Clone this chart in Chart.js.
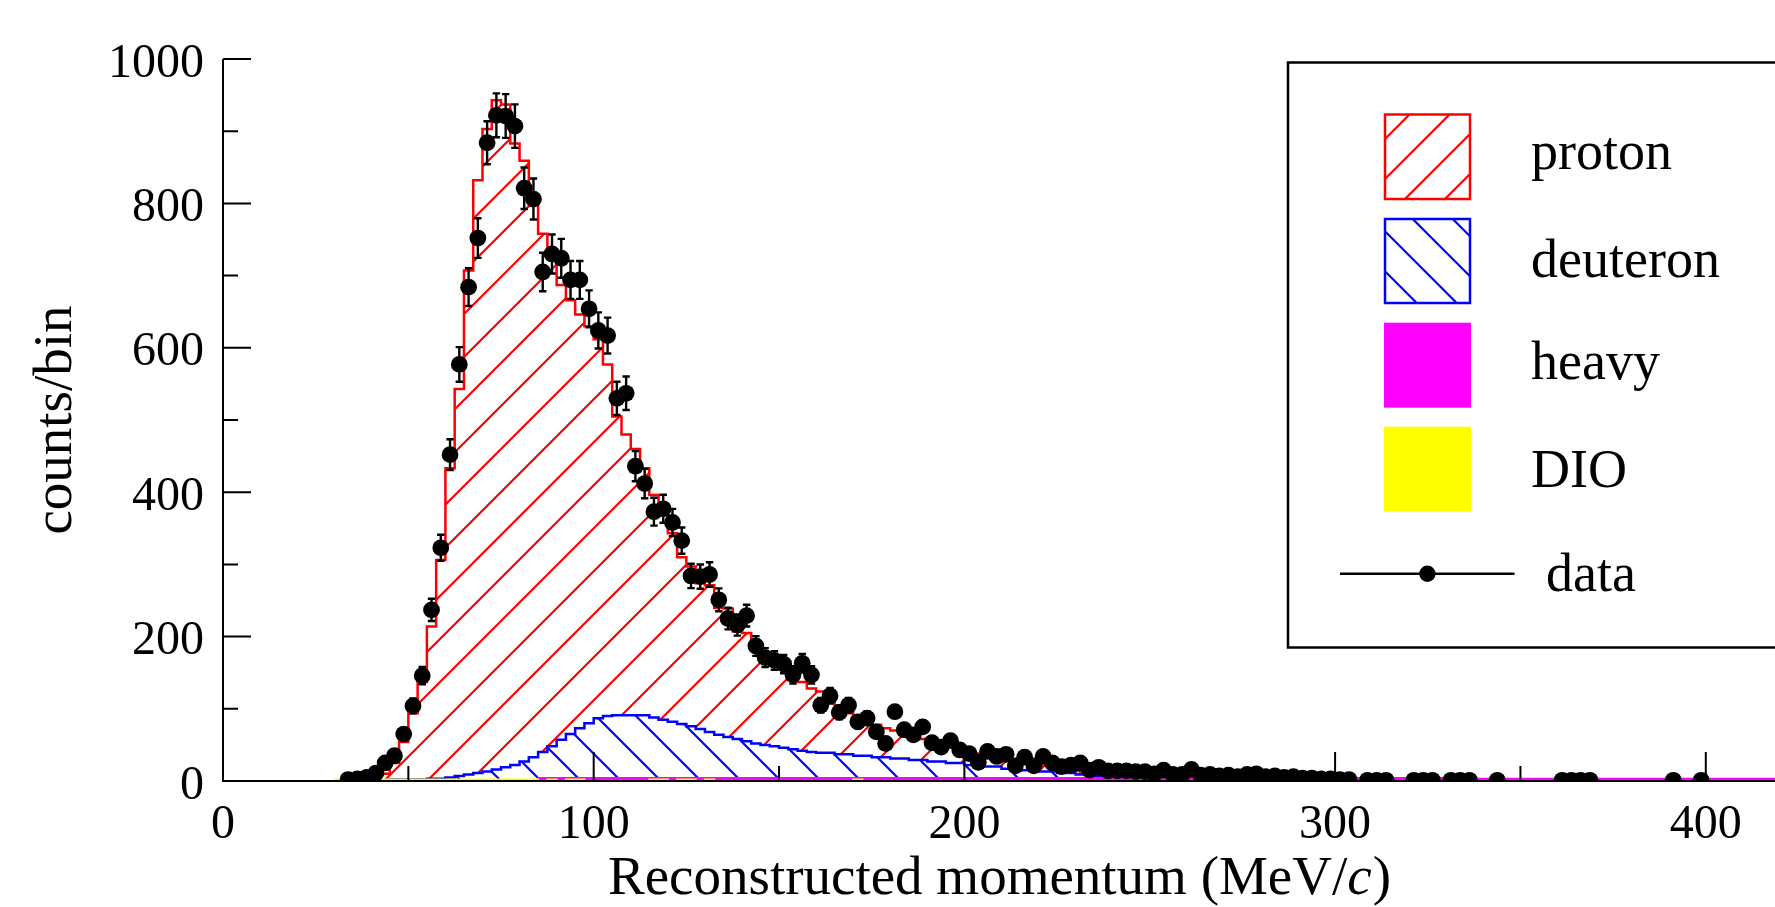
<!DOCTYPE html>
<html>
<head>
<meta charset="utf-8">
<script src="https://cdn.jsdelivr.net/npm/chart.js@4.4.1/dist/chart.umd.min.js"></script>
<style>
  html, body { margin: 0; padding: 0; background: #fff; }
  canvas { display: block; }
</style>
</head>
<body>
<canvas id="momentumChart" width="1775" height="907"></canvas>
<script>
// histogram binning: 2.5 MeV/c bins, first bin starts at 30 MeV/c
const binStart = 30;
const binWidth = 2.5;

// red outline (proton, top of the stack), bins 30 .. 270
const protonTop = [
  0, 1, 1, 2, 4, 10, 25, 54, 94, 137,
  214, 306, 433, 543, 707, 832, 903, 943, 937, 883,
  859, 806, 758, 725, 687, 666, 646, 630, 612, 577,
  505, 480, 460, 433, 396, 380, 343, 310, 297, 274,
  271, 240, 239, 207, 205, 184, 175, 165, 158, 149,
  137, 128, 124, 112, 100, 94, 88, 82, 78, 73,
  70, 64, 61, 58, 55, 52, 48, 45, 40, 38,
  36, 33, 30, 28, 25, 23, 21, 19, 17, 15,
  14, 12, 11, 10, 9, 8, 7, 6, 6, 5,
  5, 4, 4, 4, 3, 3,
];

// blue outline (deuteron), same bins
const deuteron = [
  0, 0, 1, 1, 1, 1, 2, 2, 2, 2,
  3, 3, 5, 7, 9, 11, 13, 16, 19, 22,
  27, 33, 40, 48, 57, 65, 73, 80, 87, 90,
  91, 91, 91, 91, 88, 85, 82, 79, 76, 72,
  68, 64, 61, 58, 55, 52, 50, 48, 46, 44,
  42, 40, 39, 39, 37, 37, 35, 35, 33, 33,
  31, 31, 29, 29, 27, 27, 25, 25, 22, 22,
  20, 20, 17, 17, 15, 15, 13, 13, 11, 11,
  9, 9, 7, 7, 5, 5, 4, 4, 3, 3,
  3, 3, 2, 2, 2, 2,
];

// magenta (heavy), bins 30 .. 420
const heavy = [
  0, 0, 0, 0, 0, 0, 0, 0, 0, 0, 0, 0, 0, 0, 0, 0, 0, 0, 0, 0, 0, 0,
  4, 4, 4, 4, 4, 4, 4, 4, 4, 4, 4, 4, 4, 4, 4, 4, 4, 4, 4, 4, 4, 4,
  4, 4, 4, 4, 4, 4, 4, 4, 4, 4, 4, 4, 4, 4, 4, 4, 4, 4, 4, 4, 4, 4,
  4, 4, 4, 4, 4, 4, 4, 4, 4, 4, 4, 4, 4, 4, 4, 4, 4, 4, 4, 4, 4, 4,
  4, 4, 4, 4, 4, 4, 4, 4, 4, 4, 4, 4, 4, 4, 4, 4, 4, 4, 4, 4, 4, 4,
  4, 4, 4, 4, 4, 4, 4, 4, 4, 4, 4,
  3, 3, 3, 3, 3, 3, 3, 3, 3, 3, 3, 3, 3, 3, 3, 3, 3, 3, 3, 3, 3, 3, 3, 3,
  3, 3, 3, 3, 3, 3, 3, 3, 3, 3, 3, 3, 3, 3, 3, 3, 3, 3, 3, 3, 3, 3, 3,
];

// yellow (DIO), bins 30 .. 175
const dio = [
  2, 2, 2, 2, 2, 2, 2, 2, 2, 2, 2, 2, 2, 2, 2, 2, 2, 2, 2, 2, 2, 2,
  0, 2, 0, 2, 2, 0, 0, 0, 0, 0, 0, 0, 2, 2, 0, 2, 2, 0, 2,
  0, 0, 0, 0, 0, 0, 0, 0, 0, 0, 0, 0, 0, 0, 0, 2, 0,
];

// data counts per bin (bin centres 31.25, 33.75, ...), null = empty bin
const dataCounts = [
  null, 2, 3, 5, 11, 25, 35, 65, 104, 146, 237, 323, 452, 577,
  684, 752, 884, 922, 921, 907, 821, 806, 705, 730, 724, 694, 694, 654, 624, 617,
  530, 537, 436, 412, 373, 377, 358, 333, 284, 283, 286, 251, 225, 216, 229, 187, 171, 167, 162, 147,
  163, 147, 105, 118, 95, 105, 82, 87, 68, 52, 96, 71, 64, 75, 53, 47, 56, 43, 38, 26,
  41, 34, 37, 21, 33, 21, 34, 25, 20, 22, 25, 15, 19, 14, 14, 14, 13, 13, 10, 15, 9, 9, 16, 8, 9, 7,
  8, 6, 9, 10, 6, 7, 5, 6, 4, 4, 3, 3, 2, 2,
  null, 1, 1, 1, null, null, 1, 1, 1, null, 1, 1, 1, null, null, 1,
  null, null, null, null, null, null, 1, 1, 1, 1,
  null, null, null, null, null, null, null, null, 1, null, null, 1,
  null, null, null, null, null, null, null, null,
];

// error bar half lengths (only where they stick out of the marker)
const dataErrors = [
  null, 1.4, 1.7, 2.2, 3.3, 5, 5.9, 8.1, 10.2, 12.1, 15.4, 18, 21.3, 24,
  26.2, 27.4, 29.7, 30.4, 30.3, 30.1, 28.7, 28.4, 26.6, 27, 26.9, 26.3, 26.3, 25.6, 25, 24.8,
  23, 23.2, 20.9, 20.3, 19.3, 19.4, 18.9, 18.2, 16.9, 16.8, 16.9, 15.8, 15, 14.7, 15.1, 13.7, 13.1, 12.9, 12.7, 12.1,
  12.8, 12.1, 10.2, 10.9, 9.7, 10.2, 9.1, 9.3, 8.2, 7.2,
];

const xTicks = [0, 100, 200, 300, 400];
const xMinorTicks = [50, 150, 250, 350];
const yTicks = [0, 200, 400, 600, 800, 1000];
const yMinorTicks = [100, 300, 500, 700, 900];
const legendLabels = ["proton", "deuteron", "heavy", "DIO", "data"];

const serif = "'Liberation Serif', 'Times New Roman', serif";
const noClip = { left: 0, top: 0, right: 0, bottom: 0 };

function histPoints(values) {
  const pts = values.map((v, i) => ({ x: binStart + i * binWidth, y: v }));
  pts.push({ x: binStart + values.length * binWidth, y: 0 });
  return pts;
}

function dataPoints() {
  return dataCounts.map((v, i) => ({ x: binStart + (i + 0.5) * binWidth, y: v }));
}

const canvas = document.getElementById("momentumChart");
const mainCtx = canvas.getContext("2d");

function hatch(color, spacing, offset, slash) {
  const tile = document.createElement("canvas");
  tile.width = spacing;
  tile.height = spacing;
  const t = tile.getContext("2d");
  t.strokeStyle = color;
  t.lineWidth = 2.2;
  t.beginPath();
  for (let k = -2; k <= 3; k++) {
    const c = offset + k * spacing;
    if (slash) {
      t.moveTo(c + spacing, -spacing);
      t.lineTo(c - 2 * spacing, 2 * spacing);
    } else {
      t.moveTo(c - spacing, -spacing);
      t.lineTo(c + 2 * spacing, 2 * spacing);
    }
  }
  t.stroke();
  return mainCtx.createPattern(tile, "repeat");
}

const redHatch = hatch("#ff0000", 43, 4, true);
const blueHatch = hatch("#0000ff", 40, 0, false);

function histDataset(label, values, color, width, fill, bg) {
  return {
    label: label,
    data: histPoints(values),
    stepped: true,
    borderColor: color,
    borderWidth: width,
    borderJoinStyle: "miter",
    backgroundColor: bg,
    fill: fill,
    pointRadius: 0,
    clip: noClip,
  };
}

const rootFrame = {
  id: "rootFrame",
  afterDatasetsDraw(chart) {
    const { ctx, chartArea } = chart;
    const x = chart.scales.x;
    const y = chart.scales.y;

    // error bars
    ctx.save();
    ctx.beginPath();
    ctx.rect(chartArea.left, chartArea.top, chartArea.width, chartArea.height);
    ctx.clip();
    ctx.strokeStyle = "#000";
    ctx.lineWidth = 2.4;
    ctx.beginPath();
    dataErrors.forEach((e, i) => {
      const v = dataCounts[i];
      if (v === null || e === null) return;
      const px = x.getPixelForValue(binStart + (i + 0.5) * binWidth);
      const lo = y.getPixelForValue(v - e);
      const hi = y.getPixelForValue(v + e);
      ctx.moveTo(px, lo);
      ctx.lineTo(px, hi);
      ctx.moveTo(px - 3.7, lo);
      ctx.lineTo(px + 3.7, lo);
      ctx.moveTo(px - 3.7, hi);
      ctx.lineTo(px + 3.7, hi);
    });
    ctx.stroke();
    ctx.restore();

    // axis lines and inward ticks
    ctx.save();
    ctx.strokeStyle = "#000";
    ctx.lineWidth = 2;
    const x0 = x.getPixelForValue(0);
    const y0 = y.getPixelForValue(0);
    ctx.beginPath();
    ctx.moveTo(x0, y.getPixelForValue(yTicks[yTicks.length - 1]));
    ctx.lineTo(x0, y0);
    ctx.lineTo(chartArea.right, y0);
    yTicks.forEach((v) => {
      const py = y.getPixelForValue(v);
      ctx.moveTo(x0, py);
      ctx.lineTo(x0 + 28, py);
    });
    yMinorTicks.forEach((v) => {
      const py = y.getPixelForValue(v);
      ctx.moveTo(x0, py);
      ctx.lineTo(x0 + 15, py);
    });
    xTicks.forEach((v) => {
      const px = x.getPixelForValue(v);
      ctx.moveTo(px, y0);
      ctx.lineTo(px, y0 - 29);
    });
    xMinorTicks.forEach((v) => {
      const px = x.getPixelForValue(v);
      ctx.moveTo(px, y0);
      ctx.lineTo(px, y0 - 15);
    });
    ctx.stroke();
    ctx.restore();
  },
  afterDraw(chart) {
    const ctx = chart.ctx;
    const area = chart.chartArea;
    ctx.save();

    // x axis title, with an italic c as in the original
    const partA = "Reconstructed momentum (MeV/";
    const partB = "c";
    const partC = ")";
    const upright = "55px " + serif;
    const italic = "italic 55px " + serif;
    ctx.font = upright;
    const wA = ctx.measureText(partA).width;
    const wC = ctx.measureText(partC).width;
    ctx.font = italic;
    const wB = ctx.measureText(partB).width;
    let tx = (area.left + area.right) / 2 - (wA + wB + wC) / 2;
    ctx.fillStyle = "#000";
    ctx.textBaseline = "middle";
    ctx.textAlign = "left";
    ctx.font = upright;
    ctx.fillText(partA, tx, 879.5);
    tx += wA;
    ctx.font = italic;
    ctx.fillText(partB, tx, 879.5);
    tx += wB + 1;
    ctx.font = upright;
    ctx.fillText(partC, tx, 879.5);

    // legend frame runs off the right edge like in the original
    ctx.strokeStyle = "#000";
    ctx.lineWidth = 2.5;
    ctx.strokeRect(1288, 62.5, 600, 585);

    const sx = 1385, sw = 85;
    // proton swatch
    ctx.save();
    ctx.beginPath();
    ctx.rect(sx, 114.5, sw, 84.5);
    ctx.clip();
    ctx.strokeStyle = "#ff0000";
    ctx.lineWidth = 2.2;
    ctx.beginPath();
    for (let c = 1444; c <= 1724; c += 40) {
      ctx.moveTo(c - 100, 100);
      ctx.lineTo(c - 220, 220);
    }
    ctx.stroke();
    ctx.restore();
    ctx.strokeStyle = "#ff0000";
    ctx.lineWidth = 2.5;
    ctx.strokeRect(sx, 114.5, sw, 84.5);

    // deuteron swatch
    ctx.save();
    ctx.beginPath();
    ctx.rect(sx, 219, sw, 84);
    ctx.clip();
    ctx.strokeStyle = "#0000ff";
    ctx.lineWidth = 2.2;
    ctx.beginPath();
    for (let c = 1073.7; c <= 1273.7; c += 40) {
      ctx.moveTo(c + 200, 200);
      ctx.lineTo(c + 320, 320);
    }
    ctx.stroke();
    ctx.restore();
    ctx.strokeStyle = "#0000ff";
    ctx.lineWidth = 2.5;
    ctx.strokeRect(sx, 219, sw, 84);

    ctx.fillStyle = "#ff00ff";
    ctx.fillRect(sx - 1, 322.7, sw + 2, 85);
    ctx.fillStyle = "#ffff00";
    ctx.fillRect(sx - 1, 426.7, sw + 2, 85);

    // data marker
    ctx.strokeStyle = "#000";
    ctx.lineWidth = 2.5;
    ctx.beginPath();
    ctx.moveTo(1340, 573.8);
    ctx.lineTo(1514.5, 573.8);
    ctx.stroke();
    ctx.fillStyle = "#000";
    ctx.beginPath();
    ctx.arc(1427.4, 573.8, 8.2, 0, Math.PI * 2);
    ctx.fill();

    ctx.font = "54px " + serif;
    ctx.textBaseline = "alphabetic";
    ctx.fillStyle = "#000";
    ctx.fillText(legendLabels[0], 1531, 169);
    ctx.fillText(legendLabels[1], 1531, 277);
    ctx.fillText(legendLabels[2], 1531, 379);
    ctx.fillText(legendLabels[3], 1531, 487);
    ctx.fillText(legendLabels[4], 1546, 591);
    ctx.restore();
  },
};

new Chart(canvas, {
  type: "line",
  data: {
    datasets: [
      {
        label: "data",
        data: dataPoints(),
        showLine: false,
        pointRadius: 8.4,
        pointBorderWidth: 0,
        pointBackgroundColor: "#000",
        borderColor: "#000",
        clip: noClip,
      },
      histDataset("DIO", dio, "#ffff00", 2, "origin", "#ffff00"),
      histDataset("heavy", heavy, "#ff00ff", 2, "origin", "#ff00ff"),
      histDataset("deuteron", deuteron, "#0000ff", 2.5, "origin", blueHatch),
      histDataset("proton", protonTop, "#ff0000", 2.5, 3, redHatch),
    ],
  },
  options: {
    responsive: false,
    maintainAspectRatio: false,
    devicePixelRatio: 1,
    animation: false,
    events: [],
    layout: { autoPadding: false, padding: { top: 59, left: 0, right: 0, bottom: 0 } },
    plugins: { legend: { display: false }, tooltip: { enabled: false } },
    scales: {
      x: {
        type: "linear",
        min: 0,
        max: 418.67,
        afterBuildTicks: (s) => { s.ticks = xTicks.map((v) => ({ value: v })); },
        afterFit: (s) => {
          s.height = 126;
          s.paddingLeft = 0;
          s.paddingRight = 0;
        },
        grid: { display: false, drawTicks: false },
        border: { display: false },
        ticks: {
          autoSkip: false,
          maxRotation: 0,
          includeBounds: false,
          padding: 20,
          color: "#000",
          font: { family: serif, size: 48, lineHeight: 1 },
          callback: (v) => String(v),
        },
        title: { display: false },
      },
      y: {
        min: 0,
        max: 1000,
        afterBuildTicks: (s) => { s.ticks = yTicks.map((v) => ({ value: v })); },
        afterFit: (s) => { s.width = 223; },
        grid: { display: false, drawTicks: false },
        border: { display: false },
        ticks: {
          autoSkip: false,
          padding: 19,
          labelOffset: 5,
          color: "#000",
          font: { family: serif, size: 48, lineHeight: 1 },
          callback: (v) => String(v),
        },
        title: {
          display: true,
          text: "counts/bin",
          color: "#000",
          font: { family: serif, size: 55, lineHeight: 1 },
          padding: { top: 29, bottom: 0 },
        },
      },
    },
  },
  plugins: [rootFrame],
});
</script>
</body>
</html>
